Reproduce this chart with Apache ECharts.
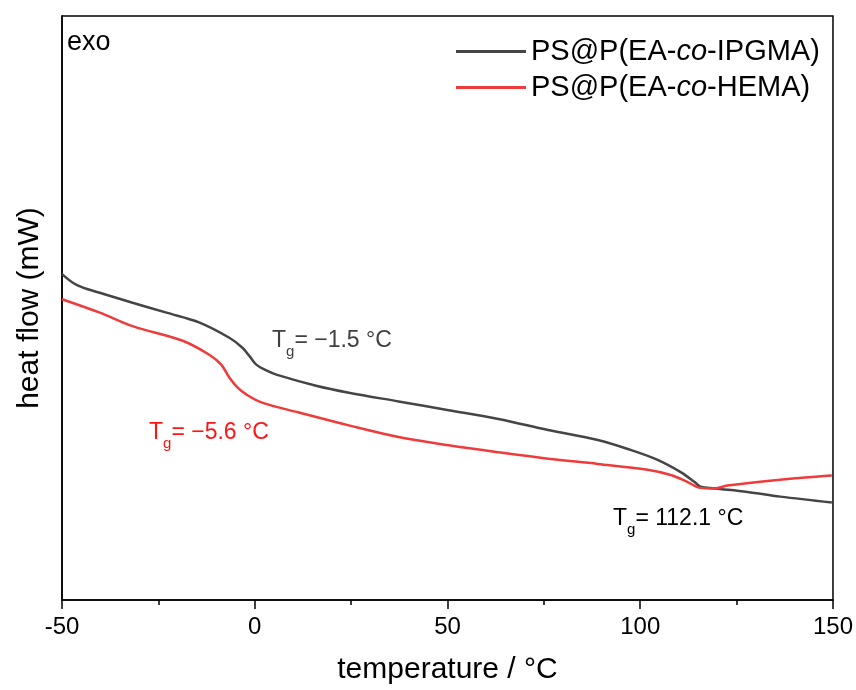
<!DOCTYPE html>
<html><head><meta charset="utf-8">
<script src="https://cdn.jsdelivr.net/npm/echarts@6/dist/echarts.min.js"></script>
<style>html,body{margin:0;padding:0;background:#fff}#c{width:856px;height:690px}</style>
</head><body><div id="c"></div>
<script>
// temperatures (°C) and heat flow (arbitrary units, exo up)
const ipgmaT = [-50,-46.1,-40.2,-31.7,-22.9,-14.3,-6.6,-3.2,-1.4,0.4,3.0,5.6,15.9,24.4,37.3,50.3,63.2,76.1,89.0,97.5,104.5,110.5,114.1,115.6,119.3,127.8,136.3,149.7];
const ipgmaV = [55.8,53.9,52.6,50.9,49.2,47.5,44.9,43.2,41.8,40.3,39.3,38.6,36.7,35.5,34.0,32.5,31.0,29.1,27.4,25.7,24.0,21.9,20.2,19.4,19.1,18.5,17.7,16.7];
const hemaT = [-50,-40.2,-31.7,-18.7,-11.8,-8.7,-6.6,-4.5,-2.2,1.9,11.5,24.4,37.3,50.3,63.2,76.1,89.0,101.9,107.9,112.3,115.6,119.3,122.6,136.3,149.7];
const hemaV = [51.5,49.2,46.9,44.4,42.0,40.3,38.1,36.4,35.2,33.8,32.1,29.9,27.9,26.5,25.3,24.2,23.3,22.3,21.4,20.2,19.2,19.1,19.6,20.6,21.3];
const xTicks = [-50,0,50,100,150];
const seriesNames = ['PS@P(EA-co-IPGMA)','PS@P(EA-co-HEMA)'];

const zip = (a,b)=>a.map((t,i)=>[t,b[i]]);
const FONT = 'Liberation Sans, Arial, sans-serif';
const tg = (txt,col)=>({text:'{t|T}{s|g}{t|'+txt+'}',
  rich:{t:{fontFamily:FONT,fontSize:23,fill:col,verticalAlign:'bottom'},
        s:{fontFamily:FONT,fontSize:15,fill:col,verticalAlign:'bottom',padding:[0,0,-7,0]}}});
const chart = echarts.init(document.getElementById('c'));
chart.setOption({
  animation:false,
  grid:{left:62,right:20,top:16,bottom:85,show:true,borderColor:'#000',borderWidth:1.5,backgroundColor:'transparent'},
  xAxis:{type:'value',min:-50,max:150,interval:50,
    name:'temperature / °C',nameLocation:'middle',nameGap:55,
    nameTextStyle:{fontFamily:FONT,fontSize:30,color:'#000'},
    axisLine:{onZero:false,lineStyle:{color:'#000',width:1.5}},
    axisTick:{length:9,lineStyle:{color:'#000',width:1.5}},
    minorTick:{show:true,splitNumber:2,length:5,lineStyle:{color:'#000',width:1.5}},
    axisLabel:{fontFamily:FONT,fontSize:24,color:'#000',margin:15,
      formatter:v=>xTicks.includes(v)?String(v):''},
    splitLine:{show:false}},
  yAxis:{type:'value',min:0,max:100,
    name:'heat flow (mW)',nameLocation:'middle',nameGap:17,
    nameTextStyle:{fontFamily:FONT,fontSize:30,color:'#000'},
    axisLine:{show:true,onZero:false,lineStyle:{color:'#000',width:1.5}},
    axisTick:{show:false},axisLabel:{show:false},splitLine:{show:false}},
  legend:{orient:'vertical',left:451,top:32,itemWidth:70,itemHeight:3,itemGap:7,
    icon:'rect',
    data:seriesNames,
    formatter:n=>{const p=n.split('-co-');return '{a|'+p[0]+'-}{i|co}{a|-'+p[1]+'}';},
    textStyle:{rich:{
      a:{fontFamily:FONT,fontSize:29,color:'#000',lineHeight:32},
      i:{fontFamily:FONT,fontSize:29,fontStyle:'italic',color:'#000',lineHeight:32}}}},
  series:[
    {name:seriesNames[0],type:'line',data:zip(ipgmaT,ipgmaV),smooth:0.35,symbol:'none',
     lineStyle:{color:'#454545',width:2.5},itemStyle:{color:'#454545'}},
    {name:seriesNames[1],type:'line',data:zip(hemaT,hemaV),smooth:0.35,symbol:'none',
     lineStyle:{color:'#ef3b3b',width:2.5},itemStyle:{color:'#ef3b3b'}}
  ],
  graphic:[
    {type:'text',left:67,top:29,style:{text:'exo',font:'27px '+FONT,fill:'#000'}},
    {type:'text',left:272,top:329,style:tg('= −1.5 °C','#404040')},
    {type:'text',left:149,top:421,style:tg('= −5.6 °C','#ff1414')},
    {type:'text',left:613,top:507,style:tg('= 112.1 °C','#000')}
  ]
});
</script></body></html>
